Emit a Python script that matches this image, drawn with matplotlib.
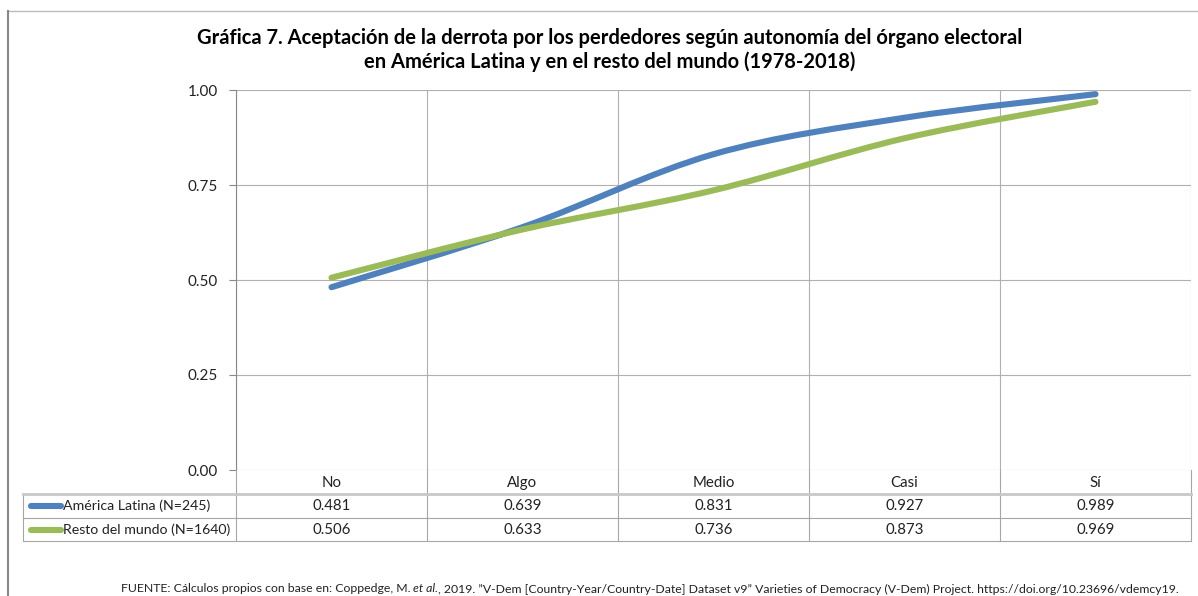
import numpy as np
import matplotlib.pyplot as plt
from matplotlib.path import Path
from matplotlib.patches import PathPatch
from matplotlib.lines import Line2D

plt.rcParams["font.family"] = ["Lato", "DejaVu Sans"]

categories = ["No", "Algo", "Medio", "Casi", "Sí"]
america_latina = [0.481, 0.639, 0.831, 0.927, 0.989]
resto_mundo = [0.506, 0.633, 0.736, 0.873, 0.969]
series_names = ["América Latina (N=245)", "Resto del mundo (N=1640)"]
series_colors = ["#4F81BD", "#9BBB59"]
y_ticks = [0.0, 0.25, 0.5, 0.75, 1.0]

W, H = 1198, 596


def smooth_path(xs, ys):
    # Excel-like smoothed line: Catmull-Rom segments as cubic Beziers
    pts = np.column_stack([xs, ys]).astype(float)
    n = len(pts)
    verts = [pts[0]]
    codes = [Path.MOVETO]
    for i in range(n - 1):
        p0 = pts[i - 1] if i > 0 else pts[i]
        p1, p2 = pts[i], pts[i + 1]
        p3 = pts[i + 2] if i + 2 < n else pts[i + 1]
        verts += [p1 + (p2 - p0) / 6, p2 - (p3 - p1) / 6, p2]
        codes += [Path.CURVE4] * 3
    return Path(verts, codes)


fig = plt.figure(figsize=(W / 100, H / 100), dpi=100)
ax = fig.add_axes([236 / W, 1 - 470 / H, (1191 - 236) / W, 380 / H])

x = np.arange(len(categories))
for vals, col in zip([america_latina, resto_mundo], series_colors):
    ax.add_patch(PathPatch(smooth_path(x, vals), facecolor="none", edgecolor=col,
                           lw=4.4, capstyle="round", joinstyle="round", zorder=3))

ax.set_xlim(-0.5, len(categories) - 0.5)
ax.set_ylim(0, 1)
ax.set_yticks(y_ticks)
ax.set_yticklabels([f"{v:.2f}" for v in y_ticks], fontsize=11, color="#222222")
ax.set_xticks(np.arange(-0.5, len(categories), 1))
ax.set_xticklabels([])
ax.tick_params(axis="x", length=0)
ax.tick_params(axis="y", length=5, width=0.8, color="#888888", pad=8)
ax.grid(True, color="#B0B0B0", lw=0.8)
for s in ["top", "right", "bottom"]:
    ax.spines[s].set_visible(False)
ax.spines["left"].set_color("#888888")
ax.spines["left"].set_linewidth(0.8)


# data table below the axes, in pixel-based figure coordinates
def fx(px):
    return px / W


def fy(py):
    return 1 - py / H


grid_col = "#A6A6A6"
bounds = [236 + i * (1191 - 236) / 5 for i in range(6)]
centers = [(bounds[i] + bounds[i + 1]) / 2 for i in range(5)]
for b in bounds:
    fig.add_artist(Line2D([fx(b), fx(b)], [fy(470), fy(541)], color=grid_col, lw=0.8))
fig.add_artist(Line2D([fx(23), fx(23)], [fy(494), fy(541)], color=grid_col, lw=0.8))
fig.add_artist(Line2D([fx(23), fx(1191)], [fy(494), fy(494)], color="#C8C8C8", lw=2.0))
for yy in [518, 541]:
    fig.add_artist(Line2D([fx(23), fx(1191)], [fy(yy), fy(yy)], color=grid_col, lw=0.8))

for c, lab in zip(centers, categories):
    fig.text(fx(c), fy(483), lab, ha="center", va="center", fontsize=10.8, color="#222222")

for row_y, name, col, vals in zip([506, 530], series_names, series_colors,
                                  [america_latina, resto_mundo]):
    fig.add_artist(Line2D([fx(31), fx(61)], [fy(row_y), fy(row_y)], color=col,
                          lw=4.4, solid_capstyle="round"))
    fig.text(fx(63), fy(row_y), name, ha="left", va="center", fontsize=10.2, color="#222222")
    for c, v in zip(centers, vals):
        fig.text(fx(c), fy(row_y), f"{v:.3f}", ha="center", va="center",
                 fontsize=10.8, color="#222222")

# outer frame (top and left edges of the chart box)
fig.add_artist(Line2D([fx(7.5), fx(W)], [fy(10.5), fy(10.5)], color="#BBBBBB", lw=1.0))
fig.add_artist(Line2D([fx(7.5), fx(7.5)], [fy(10.5), 0], color="#888888", lw=1.5))

fig.text(fx(610), fy(38), "Gráfica 7. Aceptación de la derrota por los perdedores según "
         "autonomía del órgano electoral", ha="center", va="center",
         fontsize=14.5, fontweight="bold", color="#000000")
fig.text(fx(610), fy(62), "en América Latina y en el resto del mundo (1978-2018)",
         ha="center", va="center", fontsize=14.5, fontweight="bold", color="#000000")

# source note, with "et al." in italics, laid out piece by piece
foot_parts = [
    ("FUENTE: Cálculos propios con base en: Coppedge, M. ", "normal"),
    ("et al.", "italic"),
    (", 2019. \u201dV-Dem [Country-Year/Country-Date] Dataset v9\u201d Varieties of Democracy "
     "(V-Dem) Project. https://doi.org/10.23696/vdemcy19.", "normal"),
]
renderer = fig.canvas.get_renderer()
foot_texts = [fig.text(0, fy(589), t, ha="left", va="center", fontsize=8.8,
                       style=st, color="#222222") for t, st in foot_parts]
widths = [t.get_window_extent(renderer).width for t in foot_texts]
start = 650 - sum(widths) / 2
for t, w in zip(foot_texts, widths):
    t.set_x(fx(start))
    start += w

fig.savefig("out.png", dpi=100)
